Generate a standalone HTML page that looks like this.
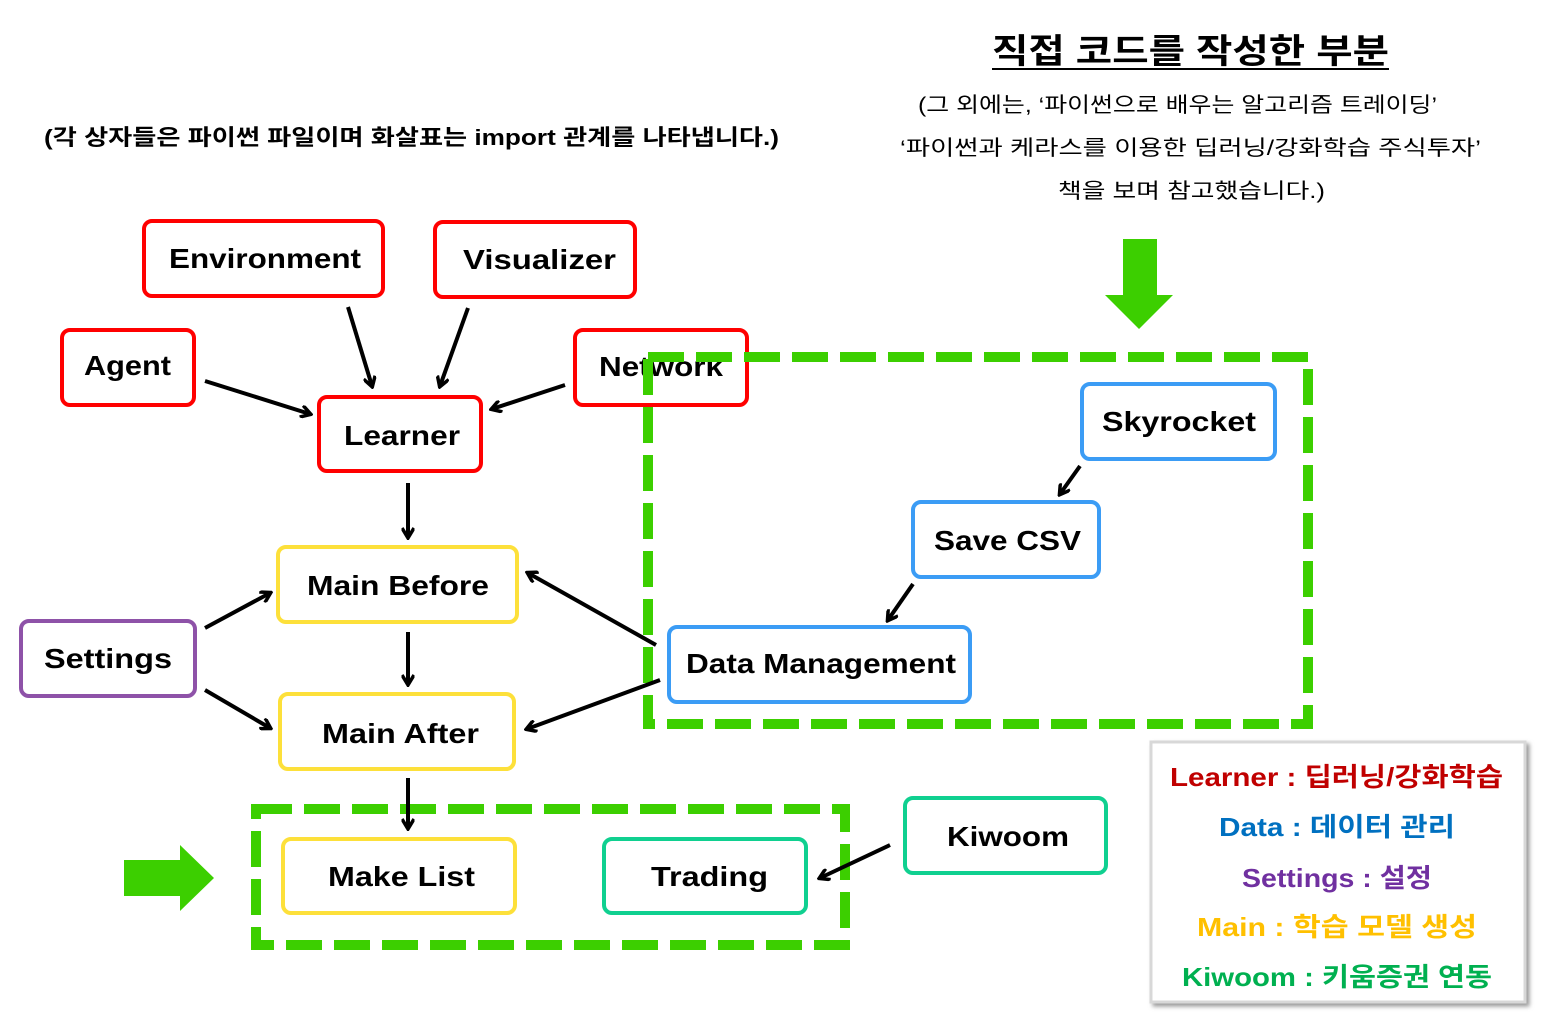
<!DOCTYPE html>
<html><head><meta charset="utf-8"><style>
html,body{margin:0;padding:0;background:#fff;width:1555px;height:1019px;overflow:hidden}
svg{display:block}
.b{font-family:"Liberation Sans","Noto Sans CJK KR",sans-serif;font-weight:bold;font-size:28px;fill:#000}
.k{font-family:"Liberation Sans","Noto Sans CJK KR",sans-serif}
</style></head><body>
<svg width="1555" height="1019" viewBox="0 0 1555 1019">
<defs>
<marker id="a" markerWidth="13" markerHeight="13" refX="10" refY="6.5" orient="auto" markerUnits="userSpaceOnUse" viewBox="0 0 13 13">
<polyline points="1,0.5 11,6.5 1,12.5" fill="none" stroke="#000" stroke-width="3.5"/>
</marker>
<filter id="sh"><feDropShadow dx="3" dy="3" stdDeviation="2" flood-color="#999"/></filter>
</defs>
<text x="992" y="63" textLength="397" lengthAdjust="spacingAndGlyphs" class="k" font-weight="bold" font-size="34">직접 코드를 작성한 부분</text>
<line x1="992" y1="69" x2="1389" y2="69" stroke="#000" stroke-width="2"/>
<g class="k" font-size="21">
<text x="918" y="112" textLength="519" lengthAdjust="spacingAndGlyphs">(그 외에는, ‘파이썬으로 배우는 알고리즘 트레이딩’</text>
<text x="900" y="155" textLength="581" lengthAdjust="spacingAndGlyphs">‘파이썬과 케라스를 이용한 딥러닝/강화학습 주식투자’</text>
<text x="1058" y="198" textLength="267" lengthAdjust="spacingAndGlyphs">책을 보며 참고했습니다.)</text>
</g>
<text x="44" y="145" textLength="735" lengthAdjust="spacingAndGlyphs" class="k" font-weight="bold" font-size="22">(각 상자들은 파이썬 파일이며 화살표는 import 관계를 나타냅니다.)</text>

<polygon points="1123,239 1157,239 1157,295 1173,295 1139,329 1105,295 1123,295" fill="#3ccf00"/>
<polygon points="124,860 180,860 180,845 214,878 180,911 180,896 124,896" fill="#3ccf00"/>

<g fill="#fff" stroke-width="4">
<rect x="144" y="221" width="239" height="75" rx="8" stroke="#f00"/>
<rect x="435" y="222" width="200" height="75" rx="8" stroke="#f00"/>
<rect x="62" y="330" width="132" height="75" rx="8" stroke="#f00"/>
<rect x="575" y="330" width="172" height="75" rx="8" stroke="#f00"/>
<rect x="319" y="397" width="162" height="74" rx="8" stroke="#f00"/>
<rect x="278" y="547" width="239" height="75" rx="8" stroke="#fde03a"/>
<rect x="21" y="621" width="174" height="75" rx="8" stroke="#8e52a8"/>
<rect x="280" y="694" width="234" height="75" rx="8" stroke="#fde03a"/>
<rect x="283" y="839" width="232" height="74" rx="8" stroke="#fde03a"/>
<rect x="604" y="839" width="202" height="74" rx="8" stroke="#10d090"/>
<rect x="905" y="798" width="201" height="75" rx="8" stroke="#10d090"/>
<rect x="1082" y="384" width="193" height="75" rx="8" stroke="#3b9cf5"/>
<rect x="913" y="502" width="186" height="75" rx="8" stroke="#3b9cf5"/>
<rect x="669" y="627" width="301" height="75" rx="8" stroke="#3b9cf5"/>
</g>
<g class="b">
<text x="169" y="268" textLength="192" lengthAdjust="spacingAndGlyphs">Environment</text>
<text x="463" y="269" textLength="153" lengthAdjust="spacingAndGlyphs">Visualizer</text>
<text x="84" y="375" textLength="87" lengthAdjust="spacingAndGlyphs">Agent</text>
<text x="599" y="376" textLength="124" lengthAdjust="spacingAndGlyphs">Network</text>
<text x="344" y="445" textLength="116" lengthAdjust="spacingAndGlyphs">Learner</text>
<text x="307" y="595" textLength="182" lengthAdjust="spacingAndGlyphs">Main Before</text>
<text x="44" y="668" textLength="128" lengthAdjust="spacingAndGlyphs">Settings</text>
<text x="322" y="743" textLength="157" lengthAdjust="spacingAndGlyphs">Main After</text>
<text x="328" y="886" textLength="147" lengthAdjust="spacingAndGlyphs">Make List</text>
<text x="651" y="886" textLength="117" lengthAdjust="spacingAndGlyphs">Trading</text>
<text x="947" y="846" textLength="122" lengthAdjust="spacingAndGlyphs">Kiwoom</text>
<text x="1102" y="431" textLength="154" lengthAdjust="spacingAndGlyphs">Skyrocket</text>
<text x="934" y="550" textLength="147" lengthAdjust="spacingAndGlyphs">Save CSV</text>
<text x="686" y="673" textLength="270" lengthAdjust="spacingAndGlyphs">Data Management</text>
</g>

<rect x="648" y="357" width="660" height="367" fill="none" stroke="#3ccf00" stroke-width="10" stroke-dasharray="36,12"/>
<rect x="256" y="809" width="589" height="136" fill="none" stroke="#3ccf00" stroke-width="10" stroke-dasharray="36,12"/>

<g stroke="#000" stroke-width="4" fill="none" marker-end="url(#a)">
<line x1="348" y1="307" x2="372" y2="386"/>
<line x1="468" y1="308" x2="440" y2="386"/>
<line x1="205" y1="381" x2="310" y2="414"/>
<line x1="565" y1="385" x2="492" y2="409"/>
<line x1="408" y1="483" x2="408" y2="537"/>
<line x1="408" y1="632" x2="408" y2="684"/>
<line x1="205" y1="628" x2="270" y2="593"/>
<line x1="205" y1="690" x2="270" y2="728"/>
<line x1="656" y1="645" x2="528" y2="573"/>
<line x1="660" y1="680" x2="527" y2="729"/>
<line x1="408" y1="778" x2="408" y2="828"/>
<line x1="890" y1="845" x2="820" y2="878"/>
<line x1="1080" y1="466" x2="1060" y2="494"/>
<line x1="913" y1="584" x2="888" y2="620"/>
</g>

<rect x="1151" y="742" width="374" height="260" fill="#fff" stroke="#d8d8d8" stroke-width="3" filter="url(#sh)"/>
<g class="k" font-weight="bold" font-size="26">
<text x="1170" y="786" textLength="333" lengthAdjust="spacingAndGlyphs" fill="#c00000">Learner : 딥러닝/강화학습</text>
<text x="1219" y="836" textLength="236" lengthAdjust="spacingAndGlyphs" fill="#0070c0">Data : 데이터 관리</text>
<text x="1242" y="887" textLength="190" lengthAdjust="spacingAndGlyphs" fill="#7030a0">Settings : 설정</text>
<text x="1197" y="936" textLength="280" lengthAdjust="spacingAndGlyphs" fill="#ffc000">Main : 학습 모델 생성</text>
<text x="1182" y="986" textLength="310" lengthAdjust="spacingAndGlyphs" fill="#00b050">Kiwoom : 키움증권 연동</text>
</g>
</svg>
</body></html>
